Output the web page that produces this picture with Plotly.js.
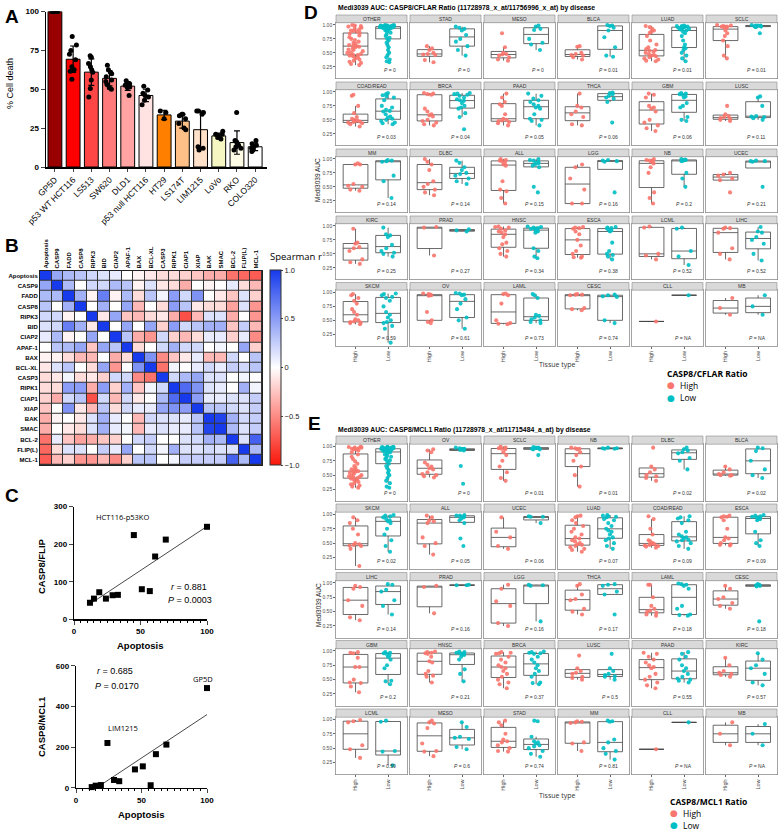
<!DOCTYPE html>
<html>
<head>
<meta charset="utf-8">
<script src="https://cdn.plot.ly/plotly-3.0.1.min.js"></script>
<style>html,body{margin:0;padding:0;background:#fff}</style>
</head>
<body>
<div id="fig" style="width:781px;height:831px"></div>
<script>
// ---- panel A: cell death per line
var cellLines = ['GP5D', 'p53 WT HCT116', 'LS513', 'SW620', 'DLD1', 'p53 null HCT116',
  'HT29', 'LS174T', 'LIM1215', 'LoVo', 'RKO', 'COLO320'];
var cellDeath = [100, 69.3, 61, 57, 52, 46, 33.5, 29.5, 24, 20, 15.7, 13];
var cellDeathSD = [0.5, 8.5, 8.5, 4.8, 2.8, 4, 3, 4.5, 12, 1.8, 7.5, 2.5];
var cellDeathReps = [
  [100, 100, 100, 100, 100, 100, 100, 100],
  [84, 78.5, 75, 72.5, 69, 64.5, 62.5, 61.5, 56.5],
  [71.5, 70.5, 66.5, 64.5, 62.5, 61, 56, 50.5, 45],
  [65.5, 62.5, 61, 60, 58, 56, 55, 53, 51, 50],
  [55.5, 54, 53.5, 52.5, 51.5, 51, 46],
  [52, 49.5, 47.5, 46, 45, 43, 40],
  [36, 35, 31],
  [34, 34, 33, 31, 28, 25, 24],
  [36, 36, 35, 34, 13, 12, 11],
  [23, 21, 21, 20, 19, 18],
  [35, 17, 16, 15, 14, 13, 12, 11],
  [17, 15, 14, 13, 12, 12, 11, 10]
];
var barColors = ['#990000', '#ff0000', '#ff4646', '#ff7a7a', '#ffa3a3', '#ffe2e2',
  '#ff8000', '#ffc088', '#ffe0c8', '#f6f6c2', '#fffde6', '#ffffff'];

// ---- panel B: Spearman correlation
var genes = ['Apoptosis', 'CASP9', 'FADD', 'CASP8', 'RIPK3', 'BID', 'CIAP2', 'APAF-1', 'BAX',
  'BCL-XL', 'CASP3', 'RIPK1', 'CIAP1', 'XIAP', 'BAK', 'SMAC', 'BCL-2', 'FLIP(L)', 'MCL-1'];
var spearman = [
  [1, 0.45, 0.35, 0.3, 0.2, 0.15, 0.1, 0, -0.05, -0.1, -0.15, -0.15, -0.2, -0.25, -0.35, -0.35, -0.6, -0.65, -0.7],
  [0.45, 1, 0.35, 0, 0.2, 0.2, 0.35, 0.3, -0.05, 0.15, -0.1, -0.15, -0.35, 0, -0.05, 0, 0.1, -0.15, -0.3],
  [0.35, 0.35, 1, 0.4, -0.05, 0.65, -0.05, 0.35, -0.15, 0.3, 0.05, 0.5, 0.2, 0.55, 0, -0.1, -0.25, 0.15, -0.2],
  [0.3, 0, 0.4, 1, 0, 0.4, 0, 0.45, -0.3, 0, -0.15, 0.5, 0.3, -0.1, -0.15, -0.15, -0.4, 0.15, -0.45],
  [0.2, 0.2, -0.05, 0, 1, -0.1, 0.45, -0.25, -0.3, -0.15, -0.1, -0.35, -0.75, -0.3, 0.15, 0.15, -0.35, 0, -0.45],
  [0.15, 0.2, 0.65, 0.4, -0.1, 1, 0, 0.45, 0, 0.45, -0.2, 0.5, 0.2, 0.3, 0.4, 0.4, -0.25, 0.25, -0.3],
  [0.1, 0.35, -0.05, 0, 0.45, 0, 1, 0.3, -0.35, -0.45, 0.2, -0.2, -0.3, -0.15, 0.1, 0.1, -0.2, 0.1, -0.5],
  [0, 0.3, 0.35, 0.45, -0.25, 0.45, 0.3, 1, -0.15, 0, 0.2, 0.4, 0.2, 0.2, 0, 0.05, 0, 0.45, -0.2],
  [-0.05, -0.05, -0.15, -0.3, -0.3, 0, -0.35, -0.15, 1, 0.55, -0.5, -0.25, -0.1, 0.1, -0.3, -0.3, 0.2, 0, 0.3],
  [-0.1, 0.15, 0.3, 0, -0.15, 0.45, -0.45, 0, 0.55, 1, -0.6, 0.05, 0, 0.1, 0.2, 0.1, 0.25, 0.2, 0.3],
  [-0.15, -0.1, 0.05, -0.15, -0.1, -0.2, 0.2, 0.2, -0.5, -0.6, 1, 0.2, 0.35, 0.45, 0.15, 0.15, 0, 0.05, 0],
  [-0.15, -0.15, 0.5, 0.5, -0.35, 0.5, -0.2, 0.4, -0.25, 0.05, 0.2, 1, 0.75, 0.55, 0.15, 0.1, 0, 0.4, 0.05],
  [-0.2, -0.35, 0.2, 0.3, -0.75, 0.2, -0.3, 0.2, -0.1, 0, 0.35, 0.75, 1, 0.5, 0.1, 0.1, 0.15, 0.15, 0.25],
  [-0.25, 0, 0.55, -0.1, -0.3, 0.3, -0.15, 0.2, 0.1, 0.1, 0.45, 0.55, 0.5, 1, 0.3, 0.3, 0.2, 0.15, 0.25],
  [-0.35, -0.05, 0, -0.1, 0.15, 0.4, 0.1, 0, -0.3, 0.2, 0.15, 0.15, 0.1, 0.3, 1, 0.95, 0.4, 0.2, 0.25],
  [-0.35, 0, -0.1, -0.15, 0.15, 0.4, 0.1, 0.05, -0.3, 0.1, 0.15, 0.1, 0.1, 0.3, 0.95, 1, 0.35, 0.15, 0.25],
  [-0.6, 0.1, -0.25, -0.4, -0.35, -0.25, -0.2, 0, 0.2, 0.25, 0, 0, 0.15, 0.2, 0.4, 0.35, 1, 0.15, 0.8],
  [-0.65, -0.15, 0.15, 0.15, 0, 0.25, 0.1, 0.45, 0, 0.2, 0.05, 0.4, 0.15, 0.15, 0.2, 0.15, 0.15, 1, 0.35],
  [-0.7, -0.3, -0.2, -0.45, -0.45, -0.3, -0.5, -0.2, 0.3, 0.3, 0, 0.05, 0.25, 0.25, 0.25, 0.25, 0.8, 0.35, 1]
];

// ---- panel C: ratios vs apoptosis
var apoptosis = [12, 15, 19, 24, 29, 33, 45, 51, 57, 61, 69, 100];
var casp8Flip = [44, 55, 72, 55, 64, 65, 224, 80, 75, 167, 212, 246];
var casp8Mcl1 = [3, 10, 13, 220, 38, 32, 90, 105, 12, 165, 212, 490];

// ---- panels D and E: Medi3039 AUC by disease
var groups = ['High', 'Low'];
var dDiseases = ['OTHER', 'STAD', 'MESO', 'BLCA', 'LUAD', 'SCLC', 'COAD/READ', 'BRCA', 'PAAD', 'THCA',
  'GBM', 'LUSC', 'MM', 'DLBC', 'ALL', 'LGG', 'NB', 'UCEC', 'KIRC', 'PRAD', 'HNSC', 'ESCA', 'LCML',
  'LIHC', 'SKCM', 'OV', 'LAML', 'CESC', 'CLL', 'MB'];
var dP = ['0', '0', '0', '0.01', '0.01', '0.01', '0.03', '0.04', '0.05', '0.06', '0.06', '0.11',
  '0.14', '0.14', '0.15', '0.16', '0.2', '0.21', '0.25', '0.27', '0.34', '0.38', '0.52', '0.52',
  '0.59', '0.61', '0.73', '0.74', 'NA', 'NA'];
var dHigh = [
  [1.0, 0.99, 0.98, 0.97, 0.95, 0.93, 0.92, 0.9, 0.89, 0.88, 0.86, 0.84, 0.81, 0.78, 0.75, 0.73, 0.7, 0.68, 0.66, 0.64, 0.63, 0.62, 0.61, 0.6, 0.58, 0.56, 0.55, 0.53, 0.51, 0.5, 0.48, 0.47, 0.46, 0.45, 0.44, 0.42, 0.4, 0.38, 0.36, 0.34, 0.32, 0.3, 0.28],
  [0.47, 0.5, 0.55, 0.62, 0.58, 0.48, 0.46, 0.33, 0.37],
  [0.85, 0.6, 0.5, 0.48, 0.47, 0.45, 0.42, 0.38, 0.36],
  [0.62, 0.61, 0.5, 0.48, 0.46, 0.45, 0.42, 0.38],
  [0.98, 0.96, 0.93, 0.9, 0.88, 0.86, 0.8, 0.72, 0.65, 0.6, 0.57, 0.55, 0.54, 0.52, 0.5, 0.48, 0.46, 0.45, 0.44, 0.42, 0.4, 0.38, 0.36, 0.35],
  [1.0, 0.99, 0.98, 0.97, 0.97, 0.96, 0.95, 0.9, 0.85, 0.8, 0.72, 0.62, 0.45, 0.4],
  [0.95, 0.93, 0.75, 0.62, 0.55, 0.52, 0.5, 0.49, 0.48, 0.47, 0.46, 0.45, 0.44, 0.42, 0.38],
  [0.98, 0.97, 0.96, 0.95, 0.7, 0.65, 0.6, 0.58, 0.56, 0.5, 0.48, 0.45, 0.42, 0.4],
  [0.97, 0.9, 0.82, 0.78, 0.75, 0.6, 0.52, 0.5, 0.49, 0.48, 0.46, 0.44, 0.4],
  [0.97, 0.75, 0.72, 0.65, 0.6, 0.55, 0.42, 0.4],
  [0.97, 0.95, 0.9, 0.75, 0.72, 0.7, 0.65, 0.5, 0.45, 0.4, 0.35, 0.3],
  [0.75, 0.6, 0.57, 0.55, 0.53, 0.52, 0.5, 0.48],
  [0.9, 0.9, 0.92, 0.55, 0.52, 0.5, 0.45, 0.43],
  [1.0, 0.95, 0.9, 0.8, 0.6, 0.55, 0.5, 0.45, 0.4, 0.35],
  [1.0, 0.98, 0.97, 0.96, 0.93, 0.9, 0.88, 0.6, 0.45, 0.42, 0.3, 0.2],
  [0.9, 0.85, 0.65, 0.45, 0.2, 0.2],
  [1.0, 0.98, 0.97, 0.96, 0.95, 0.92, 0.85, 0.75, 0.4, 0.3, 0.2],
  [0.75, 0.72, 0.7, 0.65, 0.62, 0.4],
  [0.95, 0.7, 0.68, 0.62, 0.6, 0.55, 0.4, 0.35, 0.32],
  [0.98, 0.97, 0.47],
  [0.99, 0.98, 0.97, 0.95, 0.92, 0.9, 0.88, 0.85, 0.8, 0.7, 0.67, 0.6, 0.55, 0.5, 0.45],
  [0.98, 0.97, 0.96, 0.95, 0.9, 0.85, 0.75, 0.65, 0.55, 0.5, 0.45, 0.44, 0.43],
  [0.99, 0.97, 0.5, 0.47, 0.4],
  [0.97, 0.96, 0.95, 0.88, 0.6, 0.5, 0.4],
  [0.97, 0.95, 0.9, 0.85, 0.8, 0.7, 0.65, 0.6, 0.52, 0.5, 0.48, 0.47, 0.46, 0.45, 0.43],
  [0.98, 0.97, 0.96, 0.95, 0.95, 0.94, 0.65, 0.5, 0.47, 0.45],
  [0.98, 0.97, 0.95, 0.8, 0.5, 0.45, 0.44, 0.43],
  [0.97, 0.96, 0.95, 0.96, 0.72, 0.7, 0.68],
  [0.48],
  [0.9, 0.72, 0.6]
];
var dLow = [
  [1.0, 1.0, 0.99, 0.99, 0.99, 0.99, 0.98, 0.98, 0.98, 0.98, 0.97, 0.97, 0.97, 0.97, 0.96, 0.96, 0.96, 0.96, 0.95, 0.95, 0.95, 0.95, 0.94, 0.94, 0.93, 0.93, 0.92, 0.91, 0.9, 0.88, 0.86, 0.83, 0.8, 0.77, 0.75, 0.72, 0.68, 0.64, 0.6, 0.55, 0.5, 0.46, 0.42, 0.38, 0.35, 0.33],
  [0.97, 0.95, 0.93, 0.9, 0.82, 0.75, 0.7, 0.62, 0.55, 0.45],
  [0.99, 0.97, 0.93, 0.91, 0.75, 0.68, 0.65, 0.55],
  [1.0, 0.99, 0.98, 0.95, 0.9, 0.78, 0.6, 0.45, 0.43],
  [0.99, 0.98, 0.98, 0.97, 0.97, 0.96, 0.96, 0.95, 0.94, 0.93, 0.92, 0.92, 0.9, 0.88, 0.85, 0.8, 0.72, 0.65, 0.6, 0.58, 0.55, 0.5, 0.45, 0.4, 0.35],
  [1.0, 0.99, 0.99, 0.98, 0.97, 0.97, 0.96, 0.99, 0.98, 0.85],
  [0.98, 0.96, 0.94, 0.92, 0.9, 0.85, 0.75, 0.72, 0.68, 0.66, 0.65, 0.6, 0.56, 0.54, 0.52, 0.5, 0.48, 0.45, 0.44, 0.42],
  [0.98, 0.97, 0.96, 0.95, 0.93, 0.9, 0.87, 0.85, 0.84, 0.8, 0.75, 0.72, 0.7, 0.62, 0.55, 0.33],
  [0.97, 0.93, 0.88, 0.85, 0.82, 0.78, 0.75, 0.72, 0.7, 0.6, 0.52, 0.5, 0.48, 0.4],
  [0.99, 0.98, 0.96, 0.93, 0.9, 0.88, 0.82, 0.45],
  [0.98, 0.97, 0.96, 0.95, 0.92, 0.9, 0.8, 0.75, 0.72, 0.55, 0.5, 0.48],
  [0.92, 0.9, 0.75, 0.57, 0.56, 0.55, 0.53, 0.5],
  [0.98, 0.97, 0.96, 0.95, 0.7, 0.6, 0.3],
  [0.97, 0.93, 0.85, 0.8, 0.75, 0.73, 0.7, 0.65, 0.6, 0.55],
  [1.0, 0.98, 0.97, 0.95, 0.93, 0.92, 0.9, 0.88, 0.85, 0.5, 0.4],
  [0.98, 0.97, 0.96, 0.95, 0.4],
  [1.0, 0.99, 0.98, 0.98, 0.97, 0.96, 0.75, 0.65, 0.5],
  [0.97, 0.96, 0.96, 0.95, 0.5],
  [0.97, 0.85, 0.83, 0.8, 0.66, 0.6, 0.55, 0.52, 0.5, 0.45],
  [0.94, 0.92, 0.9],
  [0.99, 0.98, 0.97, 0.96, 0.95, 0.95, 0.93, 0.92, 0.9, 0.88, 0.6, 0.55, 0.45, 0.42],
  [0.98, 0.97, 0.96, 0.95, 0.93, 0.92, 0.9, 0.7, 0.55, 0.5, 0.48, 0.45, 0.4],
  [0.97, 0.95, 0.55, 0.45, 0.3],
  [0.98, 0.9, 0.88, 0.8, 0.75, 0.68, 0.5, 0.38],
  [0.98, 0.97, 0.95, 0.92, 0.9, 0.85, 0.75, 0.65, 0.6, 0.55, 0.5, 0.47, 0.45, 0.4, 0.35, 0.1],
  [0.99, 0.98, 0.96, 0.95, 0.88, 0.8, 0.7, 0.55, 0.5, 0.35],
  [0.97, 0.95, 0.9, 0.6, 0.58, 0.55, 0.52, 0.5, 0.47, 0.45],
  [0.96, 0.95, 0.93, 0.92, 0.5, 0.45],
  [0.95],
  [0.95, 0.75, 0.6]
];

var eDiseases = ['OTHER', 'OV', 'SCLC', 'NB', 'DLBC', 'BLCA', 'SKCM', 'ALL', 'UCEC', 'LUAD',
  'COAD/READ', 'ESCA', 'LIHC', 'PRAD', 'LGG', 'THCA', 'LAML', 'CESC', 'GBM', 'HNSC', 'BRCA', 'LUSC',
  'PAAD', 'KIRC', 'LCML', 'MESO', 'STAD', 'MM', 'CLL', 'MB'];
var eP = ['0', '0', '0.01', '0.01', '0.02', '0.02', '0.02', '0.05', '0.06', '0.07', '0.09', '0.09',
  '0.14', '0.16', '0.16', '0.17', '0.18', '0.18', '0.2', '0.21', '0.37', '0.5', '0.55', '0.57',
  '0.59', '0.6', '0.74', '0.81', 'NA', 'NA'];
var eHigh = [
  [1.0, 0.99, 0.98, 0.98, 0.97, 0.96, 0.95, 0.95, 0.93, 0.9, 0.86, 0.82, 0.78, 0.74, 0.7, 0.66, 0.63, 0.6, 0.59, 0.58, 0.57, 0.56, 0.55, 0.54, 0.52, 0.5, 0.49, 0.48, 0.47, 0.46, 0.45, 0.44, 0.43, 0.42, 0.4, 0.38, 0.36, 0.34, 0.32, 0.3, 0.28],
  [0.95, 0.93, 0.9, 0.72, 0.68, 0.65, 0.62, 0.6, 0.55, 0.52, 0.5, 0.48, 0.46],
  [1.0, 0.98, 0.97, 0.96, 0.95, 0.9, 0.85, 0.75, 0.65, 0.55, 0.45, 0.4],
  [0.98, 0.97, 0.96, 0.95, 0.9, 0.85, 0.75, 0.65, 0.5, 0.3],
  [0.98, 0.65, 0.6, 0.55, 0.5, 0.48, 0.45, 0.4],
  [0.65, 0.6, 0.55, 0.52, 0.5, 0.5, 0.49],
  [0.95, 0.9, 0.85, 0.75, 0.65, 0.5, 0.48, 0.47, 0.46, 0.45, 0.4, 0.1],
  [0.98, 0.95, 0.9, 0.88, 0.85, 0.6, 0.5, 0.45, 0.3],
  [0.95, 0.7, 0.6, 0.45, 0.4],
  [0.98, 0.97, 0.95, 0.9, 0.85, 0.8, 0.75, 0.7, 0.65, 0.6, 0.58, 0.55, 0.53, 0.5, 0.48, 0.47, 0.45, 0.43, 0.4, 0.38, 0.35],
  [0.97, 0.92, 0.75, 0.65, 0.55, 0.53, 0.5, 0.49, 0.48, 0.47, 0.46, 0.45, 0.44, 0.42],
  [0.98, 0.97, 0.96, 0.95, 0.9, 0.75, 0.6, 0.58, 0.55, 0.5, 0.48, 0.47, 0.46],
  [0.95, 0.93, 0.9, 0.7, 0.6, 0.4, 0.35],
  [0.95, 0.93, 0.47],
  [0.97, 0.9, 0.68, 0.6, 0.3, 0.25],
  [0.98, 0.95, 0.8, 0.72, 0.7, 0.55, 0.5, 0.45],
  [0.97, 0.97, 0.75, 0.6, 0.55, 0.52, 0.5, 0.48, 0.45, 0.43],
  [0.95, 0.9, 0.75, 0.72, 0.65, 0.6, 0.55],
  [0.98, 0.97, 0.96, 0.88, 0.72, 0.72, 0.5, 0.45, 0.44, 0.38, 0.28],
  [0.99, 0.98, 0.97, 0.96, 0.95, 0.9, 0.82, 0.8, 0.65, 0.6, 0.57, 0.55, 0.45],
  [0.98, 0.97, 0.96, 0.95, 0.9, 0.85, 0.8, 0.75, 0.72, 0.7, 0.65, 0.6, 0.55, 0.5, 0.45, 0.42, 0.35],
  [0.92, 0.7, 0.65, 0.62, 0.6, 0.55, 0.53, 0.5],
  [0.97, 0.95, 0.9, 0.85, 0.8, 0.75, 0.72, 0.7, 0.6, 0.55, 0.5, 0.45, 0.4, 0.35],
  [0.88, 0.75, 0.65, 0.62, 0.6, 0.58, 0.55],
  [0.99, 0.97, 0.95, 0.55, 0.48, 0.33],
  [0.98, 0.95, 0.93, 0.85, 0.58, 0.45, 0.44, 0.36],
  [0.98, 0.95, 0.9, 0.75, 0.65, 0.62, 0.6, 0.55, 0.5, 0.45, 0.44],
  [0.97, 0.96, 0.95, 0.94, 0.6, 0.58, 0.45],
  [0.48],
  [0.95, 0.75, 0.55]
];
var eLow = [
  [1.0, 0.99, 0.99, 0.99, 0.98, 0.98, 0.98, 0.97, 0.97, 0.97, 0.96, 0.96, 0.96, 0.95, 0.95, 0.94, 0.93, 0.93, 0.92, 0.92, 0.91, 0.9, 0.89, 0.88, 0.86, 0.84, 0.82, 0.8, 0.78, 0.76, 0.74, 0.7, 0.66, 0.62, 0.58, 0.54, 0.5, 0.45, 0.4, 0.36, 0.3, 0.28],
  [0.98, 0.97, 0.96, 0.96, 0.95, 0.95, 0.94, 0.93, 0.66, 0.35],
  [0.99, 0.98, 0.98, 0.97, 0.97, 0.96, 0.95, 0.95, 0.85],
  [0.98, 0.97, 0.97, 0.96, 0.96],
  [0.98, 0.95, 0.93, 0.9, 0.88, 0.8, 0.75, 0.6],
  [0.98, 0.97, 0.92, 0.75, 0.6, 0.5, 0.45],
  [0.99, 0.98, 0.97, 0.95, 0.92, 0.9, 0.88, 0.85, 0.75, 0.65, 0.55, 0.45, 0.35],
  [0.99, 0.98, 0.98, 0.97, 0.96, 0.95, 0.93, 0.9, 0.85, 0.58, 0.45],
  [0.97, 0.96, 0.96, 0.85],
  [0.99, 0.98, 0.97, 0.96, 0.95, 0.92, 0.9, 0.85, 0.8, 0.75, 0.72, 0.7, 0.65, 0.6, 0.58, 0.55, 0.5, 0.45, 0.4],
  [0.97, 0.95, 0.93, 0.9, 0.85, 0.7, 0.65, 0.62, 0.6, 0.58, 0.56, 0.55, 0.53, 0.5, 0.45, 0.4],
  [0.99, 0.98, 0.97, 0.96, 0.95, 0.94, 0.93, 0.92, 0.9, 0.7, 0.55, 0.5, 0.45],
  [0.98, 0.97, 0.88, 0.85, 0.7, 0.6, 0.45],
  [0.97, 0.96, 0.96],
  [0.97, 0.96, 0.95, 0.33],
  [0.98, 0.97, 0.95, 0.85, 0.8, 0.45],
  [0.99, 0.98, 0.97, 0.95, 0.9, 0.6, 0.55, 0.45, 0.44, 0.43],
  [0.98, 0.97, 0.96, 0.96, 0.95, 0.94, 0.33],
  [0.98, 0.97, 0.96, 0.95, 0.92, 0.9, 0.85, 0.75, 0.7, 0.48, 0.47, 0.42],
  [0.99, 0.98, 0.97, 0.96, 0.95, 0.94, 0.93, 0.9, 0.85, 0.68, 0.6, 0.47],
  [0.99, 0.98, 0.97, 0.96, 0.95, 0.9, 0.85, 0.8, 0.75, 0.7, 0.65, 0.6, 0.55, 0.45, 0.44, 0.42],
  [0.95, 0.7, 0.65, 0.6, 0.58, 0.56, 0.55, 0.5],
  [0.98, 0.95, 0.9, 0.85, 0.75, 0.7, 0.65, 0.6, 0.55, 0.52, 0.5, 0.48, 0.45],
  [0.96, 0.85, 0.75, 0.7, 0.6, 0.45, 0.4],
  [0.98, 0.96, 0.45, 0.44, 0.2],
  [0.95, 0.87, 0.7, 0.68, 0.66, 0.52, 0.48],
  [0.98, 0.97, 0.7, 0.62, 0.6, 0.58, 0.55, 0.53, 0.5, 0.45, 0.4, 0.35],
  [0.98, 0.97, 0.96, 0.65, 0.6, 0.5, 0.45, 0.4, 0.3],
  [0.95],
  [0.92, 0.75, 0.55]
];

// ---- helpers: pixel positions in the 781x831 figure -> paper fractions
var W = 781, H = 831;
function px(x) { return x / W; }
function py(y) { return 1 - y / H; }

var FONT = 'Liberation Sans, Arial, sans-serif';
var SOFT = 'Open Sans, sans-serif';
var HIGH_COL = '#F8766D', LOW_COL = '#00BFC4';

var traces = [];
var shapes = [];
var annotations = [];
var layout = {
  width: W, height: H,
  margin: {l: 0, r: 0, t: 0, b: 0},
  paper_bgcolor: '#fff', plot_bgcolor: 'rgba(0,0,0,0)',
  font: {family: FONT, color: '#000'},
  showlegend: false,
  boxmode: 'overlay'
};

function label(text, x, y, opts) {
  var a = {text: text, xref: 'paper', yref: 'paper', x: px(x), y: py(y), showarrow: false,
    xanchor: 'center', yanchor: 'middle', font: {family: FONT, size: 9, color: '#000'}};
  for (var k in opts) a[k] = opts[k];
  annotations.push(a);
}

// ---------------- panel A
traces.push({
  type: 'bar', x: cellLines, y: cellDeath, xaxis: 'x', yaxis: 'y', width: 0.76,
  marker: {color: barColors, line: {color: '#000', width: 1}},
  error_y: {type: 'data', array: cellDeathSD, color: '#000', thickness: 1.2, width: 3},
  hoverinfo: 'skip'
});
var repX = [], repY = [];
cellDeathReps.forEach(function (reps, i) {
  reps.forEach(function (v) { repX.push(cellLines[i]); repY.push(v); });
});
traces.push({
  type: 'box', x: repX, y: repY, xaxis: 'x', yaxis: 'y', width: 0.55,
  boxpoints: 'all', jitter: 0.8, pointpos: 0,
  line: {color: 'rgba(0,0,0,0)', width: 0}, fillcolor: 'rgba(0,0,0,0)',
  marker: {color: '#000', size: 5}, hoverinfo: 'skip'
});
layout.xaxis = {
  domain: [px(46), px(267)], anchor: 'y', type: 'category', range: [-0.49, 11.65],
  showline: true, linecolor: '#000', linewidth: 1.5, ticks: 'outside', ticklen: 3,
  tickangle: -45, tickfont: {size: 8.5}, showgrid: false, zeroline: false
};
layout.yaxis = {
  domain: [py(167), py(11.5)], anchor: 'x', range: [0, 100],
  tickvals: [0, 25, 50, 75, 100], showline: true, linecolor: '#000', linewidth: 1.5,
  ticks: 'outside', ticklen: 4, tickfont: {size: 8, weight: 'bold'},
  showgrid: false, zeroline: false
};
label('% Cell death', 10, 84, {textangle: -90, font: {family: FONT, size: 9}});

// ---------------- panel B
traces.push({
  type: 'heatmap', z: spearman, x: genes, y: genes, xaxis: 'x2', yaxis: 'y2',
  zmin: -1, zmax: 1, xgap: 1, ygap: 1,
  colorscale: [[0, 'rgb(250,22,10)'], [0.5, 'rgb(255,255,255)'], [1, 'rgb(22,58,236)']],
  colorbar: {
    x: px(270), xanchor: 'left', xpad: 0, y: py(270), yanchor: 'top', ypad: 0,
    len: 195 / H, lenmode: 'fraction',
    thickness: 11, outlinewidth: 1, outlinecolor: '#333',
    tickvals: [-1, -0.5, 0, 0.5, 1], ticktext: ['\u22121.0', '\u22120.5', '0', '0.5', '1.0'],
    ticks: 'outside', ticklen: 2, tickfont: {size: 7.5, color: '#222'}
  },
  hoverinfo: 'skip'
});
label('Spearman r', 268, 256, {xanchor: 'left', font: {family: SOFT, size: 9.5}});
layout.xaxis2 = {
  domain: [px(40), px(262)], anchor: 'y2', side: 'top', type: 'category',
  tickangle: -90, tickfont: {size: 6, weight: 'bold'}, ticks: '',
  showline: true, mirror: true, linecolor: '#222', linewidth: 1, showgrid: false, zeroline: false
};
layout.yaxis2 = {
  domain: [py(465), py(270.7)], anchor: 'x2', type: 'category', autorange: 'reversed',
  tickfont: {size: 6, weight: 'bold'}, ticks: '',
  showline: true, mirror: true, linecolor: '#222', linewidth: 1, showgrid: false, zeroline: false
};
shapes.push({type: 'rect', xref: 'x2 domain', yref: 'y2 domain', x0: 0, x1: 1, y0: 0, y1: 1,
  fillcolor: '#333', line: {width: 0}, layer: 'below'});

// ---------------- panel C
function linearFit(xs, ys) {
  var n = xs.length, mx = 0, my = 0, sxy = 0, sxx = 0;
  for (var i = 0; i < n; i++) { mx += xs[i] / n; my += ys[i] / n; }
  for (var j = 0; j < n; j++) { sxy += (xs[j] - mx) * (ys[j] - my); sxx += (xs[j] - mx) * (xs[j] - mx); }
  var b = sxy / sxx;
  var lo = Math.min.apply(null, xs), hi = Math.max.apply(null, xs);
  return {x: [lo, hi], y: [my + b * (lo - mx), my + b * (hi - mx)]};
}
function scatterPanel(ys, n, yTop, yBot, xLeft, yMax, yDtick) {
  var fit = linearFit(apoptosis, ys);
  traces.push({type: 'scatter', mode: 'lines', x: fit.x, y: fit.y, xaxis: 'x' + n, yaxis: 'y' + n,
    line: {color: '#333', width: 0.9}, hoverinfo: 'skip'});
  traces.push({type: 'scatter', mode: 'markers', x: apoptosis, y: ys, xaxis: 'x' + n, yaxis: 'y' + n,
    marker: {symbol: 'square', size: 6, color: '#000'}, cliponaxis: false, hoverinfo: 'skip'});
  layout['xaxis' + n] = {
    domain: [px(xLeft), px(207)], anchor: 'y' + n, range: [0, 100], tickvals: [0, 50, 100],
    showline: true, linecolor: '#000', linewidth: 1.3, ticks: 'outside', ticklen: 4,
    minor: {dtick: 5, ticks: 'outside', ticklen: 2, tickcolor: '#000'},
    tickfont: {size: 8, weight: 'bold'}, showgrid: false, zeroline: false
  };
  layout['yaxis' + n] = {
    domain: [py(yBot), py(yTop)], anchor: 'x' + n, range: [0, yMax], dtick: yDtick,
    showline: true, linecolor: '#000', linewidth: 1.3, ticks: 'outside', ticklen: 4,
    tickfont: {size: 8, weight: 'bold'}, showgrid: false, zeroline: false
  };
}
scatterPanel(casp8Flip, 3, 506.5, 619.3, 74, 300, 100);
scatterPanel(casp8Mcl1, 4, 665.7, 787.7, 76, 600, 200);
label('CASP8/FLIP', 41, 566, {textangle: -90, font: {family: FONT, size: 9.5, weight: 'bold'}});
label('Apoptosis', 140, 645, {font: {family: FONT, size: 9.5, weight: 'bold'}});
label('HCT116-p53KO', 123, 517, {font: {family: SOFT, size: 7.5}});
label('<i>r</i> = 0.881', 169, 587, {xanchor: 'left', font: {family: FONT, size: 9}});
label('<i>P</i> = 0.0003', 166, 600, {xanchor: 'left', font: {family: FONT, size: 9}});
label('CASP8/MCL1', 41, 727, {textangle: -90, font: {family: FONT, size: 9.5, weight: 'bold'}});
label('Apoptosis', 141, 814, {font: {family: FONT, size: 9.5, weight: 'bold'}});
label('<i>r</i> = 0.685', 95, 671, {xanchor: 'left', font: {family: FONT, size: 9}});
label('<i>P</i> = 0.0170', 93, 686, {xanchor: 'left', font: {family: FONT, size: 9}});
label('GP5D', 203, 679, {font: {family: SOFT, size: 7.5}});
label('LIM1215', 123, 728, {font: {family: SOFT, size: 7.5}});

// ---------------- panels D and E (faceted boxplots)
var colLeft = [336, 410, 484, 558, 632, 706];
var colW = 71;
function addFacets(names, highs, lows, pvals, first, rowTops, stripH, rowH) {
  names.forEach(function (name, k) {
    var r = Math.floor(k / 6), c = k % 6, n = first + k;
    var xa = 'x' + n, ya = 'y' + n;
    var left = colLeft[c], top = rowTops[r];
    layout['xaxis' + n] = {
      domain: [px(left), px(left + colW)], anchor: ya, type: 'category',
      categoryorder: 'array', categoryarray: groups, range: [-0.6, 1.58],
      showline: true, mirror: true, linecolor: '#8c8c8c', linewidth: 0.8,
      showgrid: false, zeroline: false, ticks: r === 4 ? 'outside' : '', ticklen: 2,
      tickcolor: '#666', showticklabels: r === 4, tickangle: -90,
      tickfont: {size: 5.5, color: '#4d4d4d'}
    };
    layout['yaxis' + n] = {
      domain: [py(top + rowH), py(top + stripH)], anchor: xa, range: [0.04, 1.04],
      tickvals: [0.25, 0.5, 0.75, 1], ticktext: ['0.25', '0.50', '0.75', '1.00'],
      showticklabels: c === 0, ticks: c === 0 ? 'outside' : '', ticklen: 2, tickcolor: '#666',
      tickfont: {size: 5, color: '#4d4d4d'},
      showline: true, mirror: true, linecolor: '#8c8c8c', linewidth: 0.8,
      showgrid: false, zeroline: false
    };
    [highs[k], lows[k]].forEach(function (vals, g) {
      traces.push({
        type: 'box', xaxis: xa, yaxis: ya, y: vals,
        x: vals.map(function () { return groups[g]; }),
        width: 0.76, boxpoints: 'all', jitter: 0.7, pointpos: 0, whiskerwidth: 0,
        line: {color: '#444', width: 0.8}, fillcolor: 'rgba(255,255,255,0)',
        marker: {color: g === 0 ? HIGH_COL : LOW_COL, size: 4.1, opacity: 0.9},
        hoverinfo: 'skip'
      });
    });
    shapes.push({type: 'rect', xref: 'paper', yref: 'paper',
      x0: px(left), x1: px(left + colW), y0: py(top + stripH), y1: py(top),
      fillcolor: '#d9d9d9', line: {color: '#8c8c8c', width: 0.6}});
    annotations.push({text: name, xref: 'paper', yref: 'paper', x: px(left + colW / 2),
      y: py(top + stripH / 2), showarrow: false, xanchor: 'center', yanchor: 'middle',
      font: {family: FONT, size: 5, color: '#333'}});
    annotations.push({text: '<i>P</i> = ' + pvals[k], xref: xa + ' domain', yref: ya + ' domain',
      x: 0.88, y: 0.15, showarrow: false, xanchor: 'right', yanchor: 'middle',
      font: {family: FONT, size: 5, color: '#333'}});
  });
}
addFacets(dDiseases, dHigh, dLow, dP, 5, [15, 82, 149, 216, 282.5], 7.7, 63.5);
addFacets(eDiseases, eHigh, eLow, eP, 35, [436, 504, 572.5, 640.5, 709], 8.2, 65.5);

label('<b>Medi3039 AUC: CASP8/CFLAR Ratio (11728978_x_at/11756996_x_at) by disease</b>', 336, 8,
  {xanchor: 'left', font: {family: FONT, size: 6.8}});
label('<b>Medi3039 AUC: CASP8/MCL1 Ratio (11728978_x_at/11715484_a_at) by disease</b>', 336, 430,
  {xanchor: 'left', font: {family: FONT, size: 6.8}});
label('Medi3039 AUC', 318, 180, {textangle: -90, font: {family: FONT, size: 6.5, color: '#222'}});
label('Medi3039 AUC', 318, 605, {textangle: -90, font: {family: FONT, size: 6.5, color: '#222'}});
label('Tissue type', 557, 364, {font: {family: SOFT, size: 7, color: '#333'}});
label('Tissue type', 557, 795, {font: {family: SOFT, size: 7, color: '#333'}});

// legends for D and E, drawn as text keys
function keyBlock(title, x, yTitle, yHigh, yLow) {
  label('<b>' + title + '</b>', x, yTitle, {xanchor: 'left', font: {family: SOFT, size: 8.5}});
  [[yHigh, HIGH_COL, groups[0]], [yLow, LOW_COL, groups[1]]].forEach(function (it) {
    label('\u25CF', x + 6, it[0], {font: {family: 'DejaVu Sans, sans-serif', size: 9, color: it[1]}});
    label(it[2], x + 13, it[0], {xanchor: 'left', font: {family: SOFT, size: 8.5}});
  });
}
keyBlock('CASP8/CFLAR Ratio', 665, 373.5, 385.5, 397.5);
keyBlock('CASP8/MCL1 Ratio', 668, 801, 813, 825);

// panel letters
label('<b>A</b>', 12, 16, {font: {family: FONT, size: 19}});
label('<b>B</b>', 12, 245, {font: {family: FONT, size: 19}});
label('<b>C</b>', 12, 495, {font: {family: FONT, size: 19}});
label('<b>D</b>', 311, 13, {font: {family: FONT, size: 19}});
label('<b>E</b>', 314, 423, {font: {family: FONT, size: 19}});

layout.shapes = shapes;
layout.annotations = annotations;

Plotly.newPlot('fig', traces, layout, {staticPlot: true, displayModeBar: false});
</script>
</body>
</html>
